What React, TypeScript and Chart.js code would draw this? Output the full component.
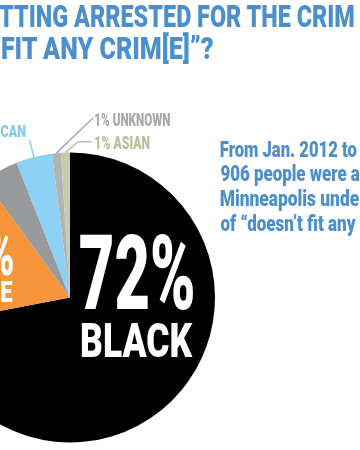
import React, { useEffect, useRef, useMemo } from "react";
import { Chart, registerables } from "chart.js";

Chart.register(...registerables);

// ---------- data ----------
const categories = ["BLACK", "WHITE", "OTHER", "NATIVE AMERICAN", "UNKNOWN", "ASIAN"];
const shares = [72, 18, 4, 4, 1, 1];
const sliceColors = ["#000000", "#f7953b", "#999a9c", "#8dd2f4", "#b2b3b5", "#c4cdab"];
const titleLines = [
  ["WHO IS GE", "TTING ARRESTED FOR THE CRIM", ""],
  ["“DOESN’T ", "FIT ANY CRIM[E]”?", ""],
];
const noteLines = [
  ["From Jan. 2012 to", ""],
  ["906 people were", " arrested"],
  ["Minneapolis und", "er"],
  ["of “doesn’t fit any", " crime.”"],
];

// ---------- layout ----------
const W = 360;
const H = 450;
const CANVAS_LEFT = -200;
const CANVAS_W = 560;
const BLUE = "#4b8fcd";
const FONT_FAMILY = "Roboto, 'Liberation Sans', Arial, sans-serif";
const WEIGHT = 900;

let _ctx: CanvasRenderingContext2D | null = null;
function ctx2d() {
  if (!_ctx) _ctx = document.createElement("canvas").getContext("2d");
  return _ctx as CanvasRenderingContext2D;
}
function measure(text: string, size: number) {
  const c = ctx2d();
  c.font = `${WEIGHT} ${size.toFixed(2)}px ${FONT_FAMILY}`;
  return c.measureText(text);
}
function capRatio() {
  return measure("H", 100).actualBoundingBoxAscent / 100;
}

type FitSpec = {
  prefix?: string;
  visible: string;
  suffix?: string;
  left?: number;
  right?: number;
  capTop: number;
  baseline: number;
  sx?: number;
  color: string;
};

type Piece = { text: string; x: number; len: number };
type Fitted = { pieces: Piece[]; fontSize: number; sx: number; baseline: number; color: string };

function fit(spec: FitSpec): Fitted {
  const prefix = spec.prefix || "";
  const suffix = spec.suffix || "";
  const fontSize = (spec.baseline - spec.capTop) / capRatio();
  const m = measure(spec.visible, fontSize);
  const inkL = -m.actualBoundingBoxLeft;
  const inkR = m.actualBoundingBoxRight;
  const a = prefix ? measure(prefix, fontSize).width : 0;
  let sx = spec.sx ?? 1;
  let tx = 0;
  if (spec.left !== undefined && spec.right !== undefined && spec.sx === undefined) {
    sx = (spec.right - spec.left) / (inkR - inkL);
    tx = spec.left - sx * (a + inkL);
  } else if (spec.left !== undefined) {
    tx = spec.left - sx * (a + inkL);
  } else if (spec.right !== undefined) {
    tx = spec.right - sx * (a + inkR);
  }
  const pieces: Piece[] = [];
  let off = 0;
  for (const part of [prefix, spec.visible, suffix]) {
    if (part) {
      const lead = part.length - part.trimStart().length;
      const trimmed = part.trim();
      const leadW = lead ? measure(part.slice(0, lead), fontSize).width : 0;
      if (trimmed) {
        pieces.push({
          text: trimmed,
          x: tx + sx * (off + leadW),
          len: sx * measure(trimmed, fontSize).width,
        });
      }
      off += measure(part, fontSize).width;
    }
  }
  return { pieces, fontSize, sx, baseline: spec.baseline, color: spec.color };
}

const leaderPlugin = {
  id: "leaders",
  afterDatasetsDraw(chart: any) {
    const ctx = chart.ctx as CanvasRenderingContext2D;
    const meta = chart.getDatasetMeta(0);
    const ox = -CANVAS_LEFT;
    const arcPt = (i: number, extra: number) => {
      const p = meta.data[i].getProps(["x", "y", "startAngle", "endAngle", "outerRadius"], true);
      const mid = (p.startAngle + p.endAngle) / 2;
      const r = p.outerRadius + extra;
      return [p.x + r * Math.cos(mid), p.y + r * Math.sin(mid)];
    };
    ctx.save();
    ctx.lineWidth = 1.5;
    // native american
    let a = arcPt(3, 0);
    let b = arcPt(3, 18);
    ctx.strokeStyle = sliceColors[3];
    ctx.beginPath();
    ctx.moveTo(a[0], a[1]);
    ctx.lineTo(b[0], b[1]);
    ctx.stroke();
    // unknown
    a = arcPt(4, 0);
    ctx.strokeStyle = "#a9abae";
    ctx.beginPath();
    ctx.moveTo(a[0], a[1]);
    ctx.lineTo(93 + ox, 118);
    ctx.stroke();
    // asian
    a = arcPt(5, 0);
    ctx.strokeStyle = "#b9c59f";
    ctx.beginPath();
    ctx.moveTo(a[0], a[1]);
    ctx.lineTo(78 + ox, 141.7);
    ctx.lineTo(92 + ox, 141.7);
    ctx.stroke();
    ctx.restore();
  },
};

export default function App() {
  const ref = useRef<HTMLCanvasElement>(null);

  useEffect(() => {
    if (!ref.current) return;
    const chart = new Chart(ref.current, {
      type: "pie",
      data: {
        labels: categories,
        datasets: [
          {
            data: shares,
            backgroundColor: sliceColors,
            borderWidth: 0,
            hoverBorderWidth: 0,
            hoverOffset: 0,
            offset: 0,
          } as any,
        ],
      },
      options: {
        responsive: false,
        animation: false,
        events: [],
        layout: { padding: { left: 125, top: 152.5, right: 145, bottom: 7.5 } },
        plugins: {
          legend: { display: false },
          tooltip: { enabled: false },
          title: { display: false },
        },
      },
      plugins: [leaderPlugin],
    });
    return () => chart.destroy();
  }, []);

  const texts = useMemo(() => {
    const out: Fitted[] = [];
    out.push(fit({ prefix: titleLines[0][0], visible: titleLines[0][1], suffix: titleLines[0][2], left: -1, right: 354, capTop: 5, baseline: 27.3, color: BLUE }));
    out.push(fit({ prefix: titleLines[1][0], visible: titleLines[1][1], suffix: titleLines[1][2], left: 1.7, right: 213, capTop: 37.3, baseline: 59.4, color: BLUE }));

    const noteBase = [156.7, 181, 205.8, 230.5];
    const noteRight = [356.7, 346.7, 349.5, 356];
    noteLines.forEach((ln, i) => {
      out.push(fit({ visible: ln[0], suffix: ln[1], left: 220.5, right: noteRight[i], capTop: noteBase[i] - 15.7, baseline: noteBase[i], color: BLUE }));
    });

    const big = fit({ visible: `${shares[0]}%`, left: 80, right: 193, capTop: 234, baseline: 309, color: "#ffffff" });
    const bigName = fit({ visible: categories[0], left: 81.5, right: 192.7, capTop: 321.7, baseline: 356.7, color: "#ffffff" });
    out.push(big, bigName);
    out.push(fit({ visible: `${shares[1]}%`, right: 13.3, sx: big.sx, capTop: 230, baseline: 274.5, color: "#ffffff" }));
    out.push(fit({ visible: categories[1], right: 12.5, sx: bigName.sx, capTop: 280, baseline: 301.7, color: "#ffffff" }));

    out.push(fit({ visible: `${shares[4]}% ${categories[4]}`, left: 95, right: 170.5, capTop: 112.3, baseline: 125.7, color: "#a6a8ab" }));
    out.push(fit({ visible: `${shares[5]}% ${categories[5]}`, left: 95, right: 149.5, capTop: 136, baseline: 149.3, color: "#b5c19a" }));
    out.push(fit({ prefix: `${shares[3]}% NATIVE AMERI`, visible: "CAN", left: 0.5, right: 26, capTop: 125, baseline: 137.3, color: "#7ecbf0" }));
    return out;
  }, []);

  return (
    <div
      style={{
        position: "fixed",
        left: 0,
        top: 0,
        width: W,
        height: H,
        overflow: "hidden",
        background: "#ffffff",
      }}
    >
      <canvas
        ref={ref}
        width={CANVAS_W}
        height={H}
        style={{ position: "absolute", left: CANVAS_LEFT, top: 0, width: CANVAS_W, height: H }}
      />
      <svg
        width={W}
        height={H}
        style={{ position: "absolute", left: 0, top: 0, overflow: "hidden" }}
      >
        {texts.map((t, i) =>
          t.pieces.map((p, j) => (
            <text
              key={`${i}-${j}`}
              x={p.x}
              y={t.baseline}
              textLength={p.len}
              lengthAdjust="spacingAndGlyphs"
              fill={t.color}
              style={{ fontFamily: FONT_FAMILY, fontWeight: WEIGHT, fontSize: `${t.fontSize.toFixed(2)}px` }}
            >
              {p.text}
            </text>
          ))
        )}
      </svg>
    </div>
  );
}
